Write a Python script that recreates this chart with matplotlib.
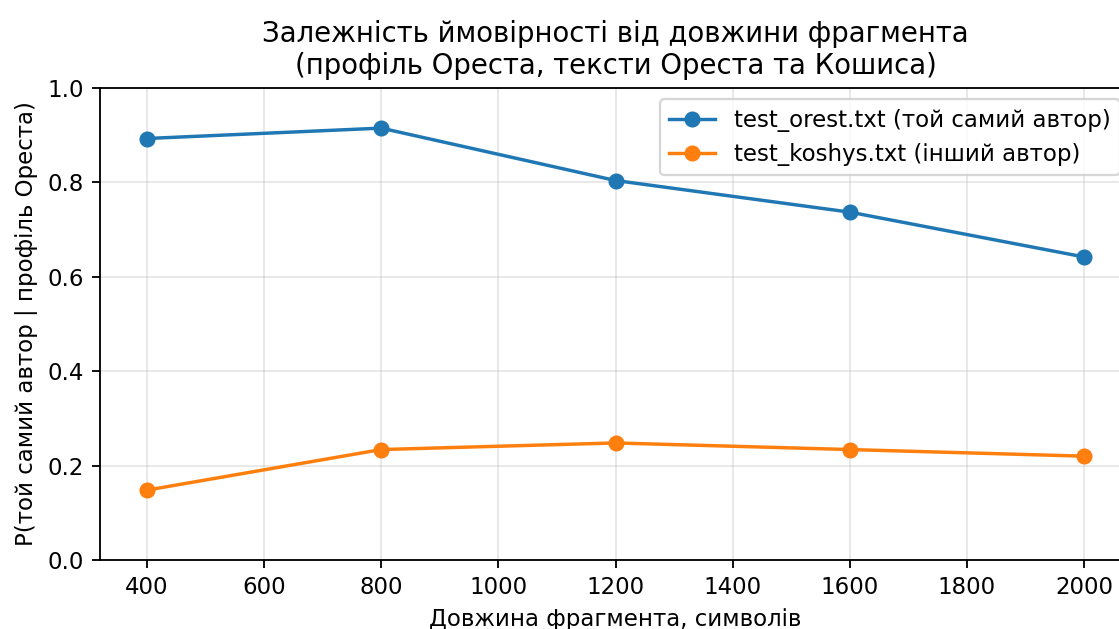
import matplotlib
matplotlib.use("Agg")
import matplotlib.pyplot as plt

lengths = [400, 800, 1200, 1600, 2000]
p_orest = [0.893, 0.915, 0.804, 0.737, 0.642]
p_koshys = [0.148, 0.234, 0.248, 0.234, 0.220]
label_orest = "test_orest.txt (той самий автор)"
label_koshys = "test_koshys.txt (інший автор)"
title = "Залежність ймовірності від довжини фрагмента\n(профіль Ореста, тексти Ореста та Кошиса)"
xlabel = "Довжина фрагмента, символів"
ylabel = "P(той самий автор | профіль Ореста)"

W, H = 1119, 629
DPI = 165
fig = plt.figure(figsize=(W / DPI, H / DPI), dpi=DPI)
ax = fig.add_axes([100 / W, (H - 560) / H, (1131 - 100) / W, (560 - 88) / H])

ax.plot(lengths, p_orest, marker="o", label=label_orest)
ax.plot(lengths, p_koshys, marker="o", label=label_koshys)
ax.set_ylim(0, 1)
ax.set_title(title)
ax.set_xlabel(xlabel)
ax.set_ylabel(ylabel)
ax.grid(True, alpha=0.3)
ax.legend(loc="upper right")

fig.savefig("out.png", dpi=DPI)
